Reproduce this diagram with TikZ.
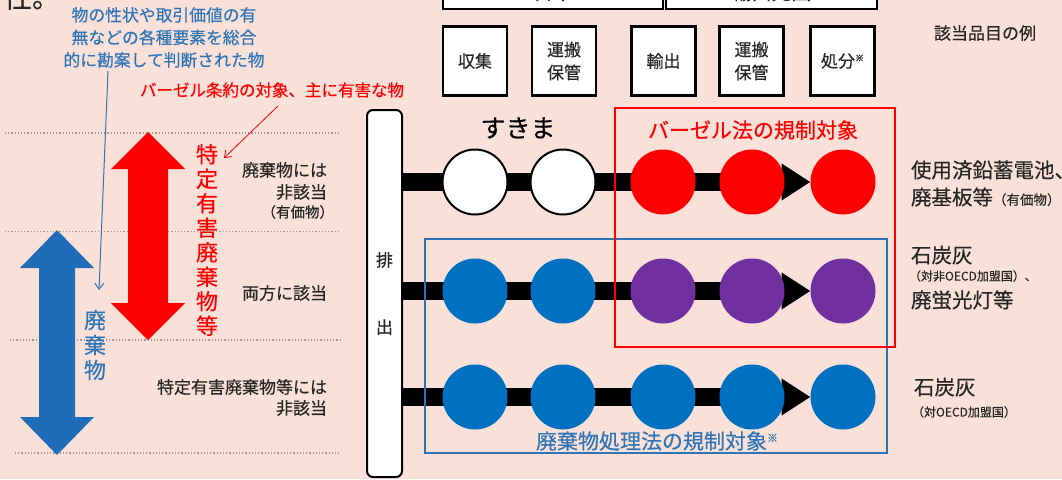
\documentclass[tikz,border=0pt]{standalone}
\usepackage{fontspec}
\setmainfont{Noto Sans CJK JP}[FakeBold=0.4]
\usetikzlibrary{arrows.meta}
\definecolor{bgc}{HTML}{F9E1D9}
\definecolor{cblue}{HTML}{0070C0}
\definecolor{cpurp}{HTML}{7030A0}
\definecolor{tblue}{HTML}{2E75B6}
\definecolor{ablue}{HTML}{1F6CB8}
\definecolor{dtext}{HTML}{262626}
\pgfdeclarelayer{bglayer}
\pgfdeclarelayer{bars}
\pgfsetlayers{bglayer,bars,main}
\tikzset{
  t17/.style={font=\fontsize{17pt}{21pt}\selectfont, text=dtext},
  t20/.style={font=\fontsize{20.5pt}{24pt}\selectfont, text=dtext},
  t12/.style={font=\fontsize{12pt}{14pt}\selectfont, text=dtext},
  topbox/.style={draw=black, line width=2.5pt, fill=white, minimum width=64pt, minimum height=69pt, align=center, font=\fontsize{17pt}{23pt}\selectfont, text=dtext},
  bigbox/.style={draw=black, line width=2.5pt, fill=white, font=\fontsize{20pt}{24pt}\selectfont, text=dtext},
  dot/.style={circle, minimum size=65pt, inner sep=0pt},
  wdot/.style={dot, fill=white, draw=black, line width=2pt},
  rdot/.style={dot, fill=red},
  bdot/.style={dot, fill=cblue},
  pdot/.style={dot, fill=cpurp},
  bar/.style={line width=18pt, black, -{Triangle[length=29pt,width=35pt]}},
  guide/.style={draw=gray!80, dotted, line width=1.2pt},
}
\begin{document}
\begin{tikzpicture}[x=1pt,y=-1pt, every node/.style={inner sep=0pt, outer sep=0pt}]
\useasboundingbox (0,0) rectangle (1062,479);
\begin{pgfonlayer}{bglayer}
\fill[bgc] (0,0) rectangle (1062,479);
\end{pgfonlayer}
\begin{scope}
\clip (0,0) rectangle (1062,479);

% top fragment
\node[anchor=east, font=\fontsize{28pt}{30pt}\selectfont, text=dtext] (frag) at (60,-3) {性。};

% top boxes (cut off)
\node[bigbox, minimum width=220pt, minimum height=50pt] (jp) at (553,-16) {};
\node[font=\fontsize{20pt}{24pt}\selectfont, text=dtext] (jpt) at (553,-8) {日本};
\node[bigbox, minimum width=211pt, minimum height=50pt] (dest) at (771.5,-16) {};
\node[font=\fontsize{20pt}{24pt}\selectfont, text=dtext] (destt) at (771.5,-8) {輸出先国};

\node[topbox] (b1) at (475,61) {収集};
\node[topbox] (b2) at (564,61) {運搬\\保管};
\node[topbox] (b3) at (663.5,61) {輸出};
\node[topbox] (b4) at (751.5,61) {運搬\\保管};
\node[topbox] (b5) at (842.5,61) {処分\raisebox{6pt}{\fontsize{9pt}{9pt}\selectfont ※}};

\node[t17] (ex) at (985,33) {該当品目の例};

% guides
\draw[guide] (5,133) -- (340,133);
\draw[guide] (5,231.5) -- (340,231.5);
\draw[guide] (10,340) -- (340,340);
\draw[guide] (15,453) -- (340,453);

% double arrows
\fill[red] (148,132) -- (185,169) -- (168,169) -- (168,303) -- (185,303) -- (148,340)
  -- (111,303) -- (128,303) -- (128,169) -- (111,169) -- cycle;
\fill[ablue] (57,230) -- (94,268) -- (75,268) -- (75,417) -- (94,417) -- (57,455)
  -- (20,417) -- (39,417) -- (39,268) -- (20,268) -- cycle;

\node[align=center, text=red, font=\fontsize{22pt}{24.5pt}\selectfont] (haz) at (207,240)
  {特\\定\\有\\害\\廃\\棄\\物\\等};
\node[align=center, text=tblue, font=\fontsize{22pt}{25pt}\selectfont] (wst) at (95,345)
  {廃\\棄\\物};

% annotations
\node[align=center, text=tblue, font=\fontsize{16.8pt}{22.5pt}\selectfont] (ann1) at (164,37.5)
  {物の性状や取引価値の有\\無などの各種要素を総合\\的に勘案して判断された物};
\coordinate (a1s) at (108,71);
\coordinate (a1t) at (99,290);
\draw[tblue, line width=1pt, -{Straight Barb[length=6pt,width=9pt]}] (a1s) -- (a1t);

\node[anchor=west, text=red, font=\fontsize{16.5pt}{20pt}\selectfont] (ann2) at (140,90)
  {バーゼル条約の対象、主に有害な物};
\coordinate (a2s) at (278,106);
\coordinate (a2t) at (224,158);
\draw[red, line width=0.8pt, -{Straight Barb[length=6pt,width=9pt]}] (a2s) -- (a2t);

% left labels
\node[t17, anchor=east] (l1) at (327,170) {廃棄物には};
\node[t17, anchor=east] (l2) at (327,192) {非該当};
\node[anchor=east, font=\fontsize{14.5pt}{16pt}\selectfont, text=dtext] (l3) at (334,212) {（有価物）};
\node[t17, anchor=east] (l4) at (327,293) {両方に該当};
\node[t17, anchor=east] (l5) at (327,387) {特定有害廃棄物等には};
\node[t17, anchor=east] (l6) at (327,408) {非該当};

% discharge box
\node[draw=black, line width=2pt, fill=white, rounded corners=6pt, minimum width=35pt, minimum height=367pt,
  align=center, font=\fontsize{17pt}{20pt}\selectfont, text=dtext] (dis) at (384.5,293.5) {排\\[47pt]出};

% frames
\node[draw=tblue, line width=2pt, minimum width=462pt, minimum height=214pt] (wlaw) at (656,346) {};
\node[draw=red, line width=2pt, minimum width=280pt, minimum height=239pt] (blaw) at (755,227.5) {};
\node[text=red, font=\fontsize{21pt}{24pt}\selectfont] (blawt) at (753,130) {バーゼル法の規制対象};
\node[text=tblue, font=\fontsize{21pt}{24pt}\selectfont] (wlawt) at (657,441)
  {廃棄物処理法の規制対象\raisebox{7pt}{\fontsize{11pt}{11pt}\selectfont ※}};

\node[font=\fontsize{25pt}{28pt}\selectfont] (gap) at (518,128) {すきま};

% circles
\node[wdot] (c11) at (475,182) {};
\node[wdot] (c12) at (563,182) {};
\node[rdot] (c13) at (663,182) {};
\node[rdot] (c14) at (752,182) {};
\node[rdot] (c15) at (843,182) {};
\node[bdot] (c21) at (475,291) {};
\node[bdot] (c22) at (563,291) {};
\node[pdot] (c23) at (663,291) {};
\node[pdot] (c24) at (752,291) {};
\node[pdot] (c25) at (843,291) {};
\node[bdot] (c31) at (475,397) {};
\node[bdot] (c32) at (563,397) {};
\node[bdot] (c33) at (663,397) {};
\node[bdot] (c34) at (752,397) {};
\node[bdot] (c35) at (843,397) {};

\begin{pgfonlayer}{bars}
\draw[bar] (dis.east |- c11) -- (c15.west);
\draw[bar] (dis.east |- c21) -- (c25.west);
\draw[bar] (dis.east |- c31) -- (c35.west);
\end{pgfonlayer}

% right labels
\node[t20, anchor=west] (r1a) at (911,170) {使用済鉛蓄電池、};
\node[anchor=west, text=dtext] (r1b) at (911,197) {\fontsize{20.5pt}{24pt}\selectfont 廃基板等\fontsize{13.5pt}{15pt}\selectfont（有価物）};
\node[t20, anchor=west] (r2a) at (911,255) {石炭灰};
\node[t12, anchor=west] (r2b) at (909,276) {（対非OECD加盟国）、};
\node[t20, anchor=west] (r2c) at (911,300) {廃蛍光灯等};
\node[t20, anchor=west] (r3a) at (914,387) {石炭灰};
\node[t12, anchor=west] (r3b) at (912,412) {（対OECD加盟国）};
\end{scope}
\end{tikzpicture}
\end{document}
